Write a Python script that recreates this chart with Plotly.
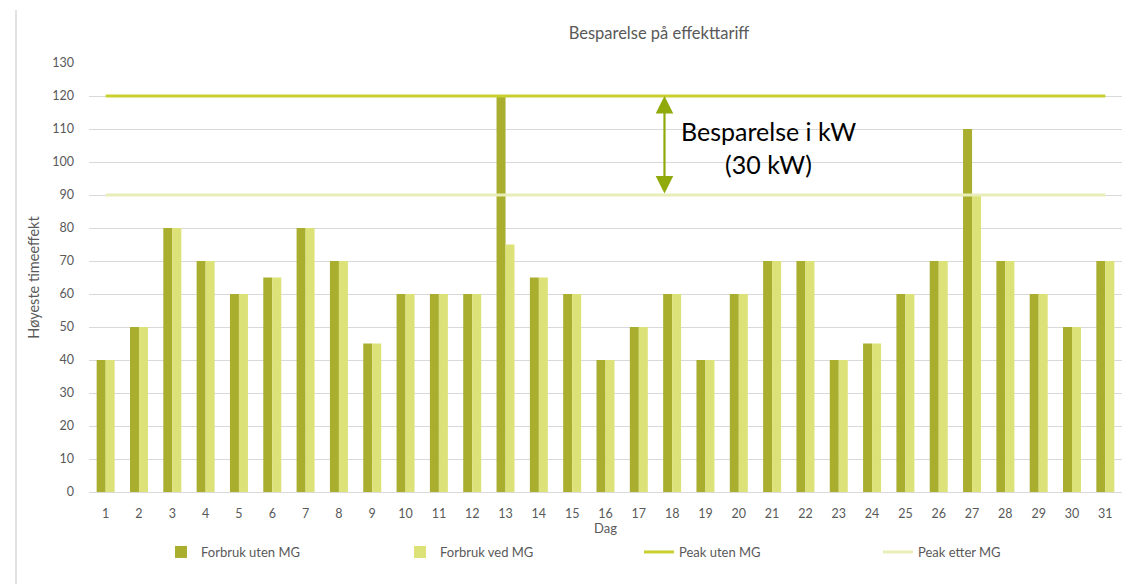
import plotly.graph_objects as go

days = list(range(1, 32))
forbruk_uten = [40, 50, 80, 70, 60, 65, 80, 70, 45, 60, 60, 60, 120, 65, 60, 40,
                50, 60, 40, 60, 70, 70, 40, 45, 60, 70, 110, 70, 60, 50, 70]
forbruk_ved = [40, 50, 80, 70, 60, 65, 80, 70, 45, 60, 60, 60, 75, 65, 60, 40,
               50, 60, 40, 60, 70, 70, 40, 45, 60, 70, 90, 70, 60, 50, 70]
peak_uten = [120] * 31
peak_etter = [90] * 31
y_ticks = list(range(0, 131, 10))

FONT = "Lato, Calibri, Carlito, sans-serif"
GRAY = "#595959"

fig = go.Figure()
fig.add_trace(go.Bar(x=days, y=forbruk_uten, name="Forbruk uten MG",
                     marker=dict(color="#A9AE2E", line=dict(width=0))))
fig.add_trace(go.Bar(x=days, y=forbruk_ved, name="Forbruk ved MG",
                     marker=dict(color="#DCE278", line=dict(width=0))))
fig.add_trace(go.Scatter(x=days, y=peak_uten, name="Peak uten MG", mode="lines",
                         line=dict(color="#C8D030", width=3)))
fig.add_trace(go.Scatter(x=days, y=peak_etter, name="Peak etter MG", mode="lines",
                         line=dict(color="#E9EEB8", width=3)))

# double-headed arrow showing savings
fig.add_annotation(x=17.77, y=peak_uten[0], ax=17.77, ay=peak_etter[0],
                   xref="x", yref="y", axref="x", ayref="y", text="",
                   showarrow=True, arrowhead=2, arrowside="end+start",
                   arrowsize=1.6, arrowwidth=2.2, arrowcolor="#8FAA0A")
fig.add_annotation(x=20.9, y=104.5, xref="x", yref="y",
                   text="Besparelse i kW<br>(30 kW)", showarrow=False,
                   font=dict(family=FONT, size=25, color="black"), align="center")

# left chart border
fig.add_shape(type="line", xref="paper", yref="paper",
              x0=(16 - 89) / 1033, x1=(16 - 89) / 1033, y0=-92 / 429, y1=(492 - 10) / 429,
              line=dict(color="#D9D9D9", width=1.5))

fig.update_layout(
    width=1145, height=584,
    margin=dict(l=89, r=23, t=63, b=92, autoexpand=False),
    paper_bgcolor="white", plot_bgcolor="white",
    font=dict(family=FONT, size=12, color=GRAY),
    title=dict(text="Besparelse på effekttariff", x=659 / 1145, xanchor="center",
               y=1 - 33 / 584, yanchor="middle", yref="container",
               font=dict(family=FONT, size=16.5, color=GRAY)),
    barmode="group", bargap=0.46, bargroupgap=0,
    showlegend=True,
    legend=dict(orientation="h", x=(161 - 89) / 1033, xanchor="left",
                y=-60 / 429, yanchor="middle",
                entrywidth=194, entrywidthmode="pixels",
                font=dict(family=FONT, size=13, color=GRAY),
                traceorder="normal"),
    xaxis=dict(range=[0.5, 31.5], tickmode="array", tickvals=days,
               ticktext=[str(d) for d in days], showgrid=False, zeroline=False,
               showline=False, ticks="", tickfont=dict(size=12.5, color=GRAY),
               ticklabelstandoff=12, automargin=False,
               title=dict(text="Dag", standoff=3, font=dict(size=13, color=GRAY))),
    yaxis=dict(range=[0, 130], tickmode="array", tickvals=y_ticks,
               showgrid=True, gridcolor="#D9D9D9", gridwidth=1,
               zeroline=True, zerolinecolor="#D9D9D9", zerolinewidth=1,
               showline=False, ticks="", ticklabelstandoff=14,
               tickfont=dict(size=12.5, color=GRAY), automargin=False,
               title=dict(text="Høyeste timeeffekt", standoff=9,
                          font=dict(size=14.5, color=GRAY))),
)

fig.write_html("out.html", config={"displayModeBar": False},
               post_script="document.body.style.margin='0px';")
